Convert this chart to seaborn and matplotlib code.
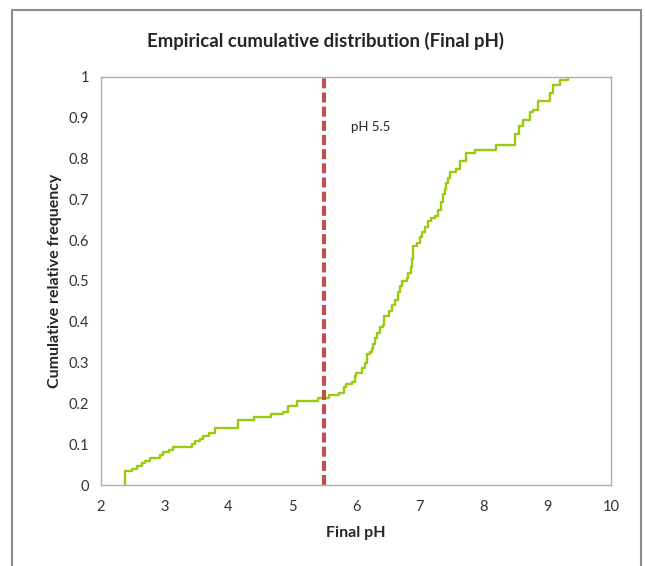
import pandas as pd
import matplotlib.pyplot as plt
import seaborn as sns
from matplotlib.patches import Rectangle

ph_values = [2.37, 2.48, 2.56, 2.64, 2.69, 2.77, 2.93, 2.98, 3.07, 3.13,
             3.42, 3.47, 3.55, 3.60, 3.70, 3.79, 4.15, 4.40, 4.67, 4.86,
             4.93, 5.07, 5.40, 5.57, 5.74, 5.81, 5.84, 5.93, 5.98, 6.00,
             6.09, 6.14, 6.17, 6.22, 6.25, 6.27, 6.30, 6.33, 6.37, 6.43,
             6.44, 6.51, 6.56, 6.61, 6.66, 6.69, 6.72, 6.80, 6.82, 6.87,
             6.88, 6.89, 6.90, 6.95, 7.00, 7.03, 7.08, 7.13, 7.18, 7.24,
             7.29, 7.34, 7.37, 7.40, 7.41, 7.45, 7.47, 7.57, 7.63, 7.73,
             7.87, 8.20, 8.49, 8.55, 8.62, 8.73, 8.78, 8.86, 9.04, 9.09,
             9.20, 9.33]
counts = [5, 1, 1, 1, 1, 1, 1, 1, 1, 1,
          1, 1, 1, 1, 1, 2, 3, 1, 1, 1,
          2, 2, 1, 1, 1, 2, 1, 1, 2, 1,
          2, 2, 3, 1, 1, 2, 2, 2, 2, 1,
          3, 2, 2, 2, 3, 2, 2, 1, 2, 2,
          3, 2, 3, 1, 2, 2, 2, 2, 1, 1,
          2, 3, 3, 2, 2, 2, 2, 1, 3, 3,
          1, 2, 4, 3, 2, 3, 1, 3, 3, 3,
          2, 1]
ph_threshold = 5.5
x_ticks = [2, 3, 4, 5, 6, 7, 8, 9, 10]
y_ticks = [0, 0.1, 0.2, 0.3, 0.4, 0.5, 0.6, 0.7, 0.8, 0.9, 1]

df = pd.DataFrame({'ph': ph_values, 'n': counts})

sns.set_style("white")
plt.rcParams['font.family'] = ['Lato', 'DejaVu Sans']

fig = plt.figure(figsize=(6.45, 5.66), dpi=100)
ax = fig.add_axes([0.1566, 0.1431, 0.7907, 0.7209])

sns.ecdfplot(data=df, x='ph', weights='n', ax=ax, color='#9BCB0F', linewidth=1.7)
ax.axvline(ph_threshold, color='#C0504D', linewidth=3, linestyle=(0, (2.4, 1.0)))
ax.text(5.92, 0.877, f'pH {ph_threshold}', fontsize=9.5, color='#262626', va='center')

ax.set_xlim(2, 10)
ax.set_ylim(0, 1)
ax.set_xticks(x_ticks)
ax.set_yticks(y_ticks)
ax.set_yticklabels([f'{v:g}' for v in y_ticks])
ax.tick_params(axis='both', direction='inout', length=7, width=1, color='#A6A6A6',
               labelsize=10.5, labelcolor='#333333')
ax.tick_params(axis='x', pad=7)
ax.tick_params(axis='y', pad=5)
for side in ax.spines:
    ax.spines[side].set_color('#ADADAD')
    ax.spines[side].set_linewidth(1)

ax.set_xlabel('Final pH', fontsize=11.5, fontweight='bold', labelpad=9)
ax.set_ylabel('Cumulative relative frequency', fontsize=11.5, fontweight='bold', labelpad=5)
fig.suptitle('Empirical cumulative distribution (Final pH)', x=0.505, y=0.943,
             fontsize=13.4, fontweight='bold')

# Borde del área del gráfico
fig.patches.append(Rectangle((12 / 645, -0.02), (641 - 12) / 645, 1.02 - 10 / 566,
                             transform=fig.transFigure, fill=False,
                             edgecolor='#8C8C8C', linewidth=1.5))

fig.savefig('out.png', dpi=100)
